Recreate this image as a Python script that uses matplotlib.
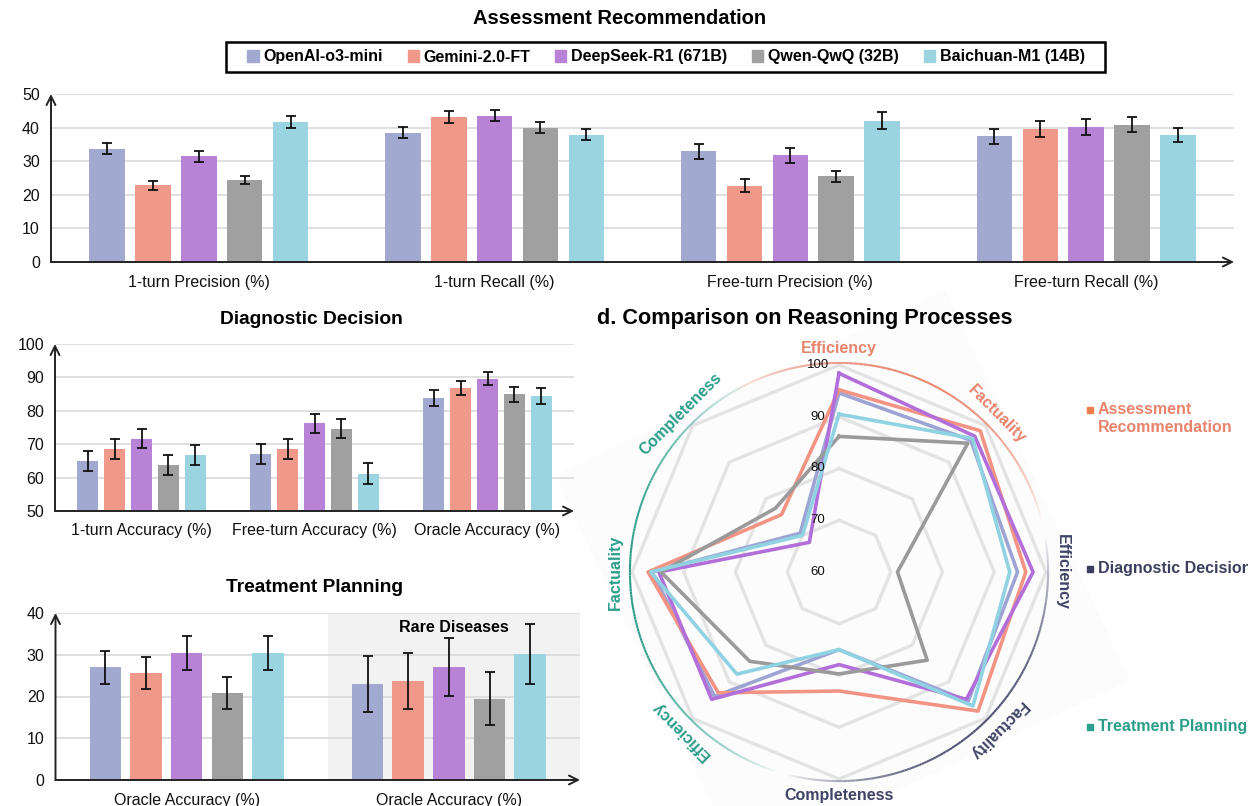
import numpy as np
import matplotlib.pyplot as plt
from matplotlib.patches import Patch, Polygon, Rectangle
from matplotlib.lines import Line2D
from matplotlib.collections import LineCollection
from matplotlib.colors import to_rgba

plt.rcParams['font.family'] = ['Liberation Sans', 'DejaVu Sans']

W, H = 1248, 806

models = ['OpenAI-o3-mini', 'Gemini-2.0-FT', 'DeepSeek-R1 (671B)', 'Qwen-QwQ (32B)', 'Baichuan-M1 (14B)']
colors = ['#A2A9D1', '#F0998A', '#B882D6', '#A0A0A0', '#9BD4E1']
line_colors = ['#9DA4D4', '#F29383', '#B26FDA', '#9A9A9A', '#8FD2E2']

# Assessment Recommendation (rows = models)
ar_metrics = ['1-turn Precision (%)', '1-turn Recall (%)', 'Free-turn Precision (%)', 'Free-turn Recall (%)']
ar_mean = [[33.7, 38.5, 32.9, 37.4],
           [22.8, 43.1, 22.7, 39.7],
           [31.5, 43.6, 31.7, 40.2],
           [24.4, 40.0, 25.5, 40.9],
           [41.7, 37.9, 42.1, 37.8]]
ar_err = [[1.6, 1.7, 2.2, 2.3],
          [1.4, 1.8, 2.0, 2.4],
          [1.6, 1.7, 2.3, 2.5],
          [1.3, 1.7, 1.7, 2.3],
          [1.9, 1.6, 2.6, 2.2]]

# Diagnostic Decision
dd_metrics = ['1-turn Accuracy (%)', 'Free-turn Accuracy (%)', 'Oracle Accuracy (%)']
dd_mean = [[65.0, 67.1, 83.8],
           [68.5, 68.7, 86.8],
           [71.7, 76.2, 89.6],
           [63.7, 74.6, 84.9],
           [66.7, 61.2, 84.4]]
dd_err = [[3.0, 3.0, 2.3],
          [3.0, 3.0, 2.2],
          [2.9, 2.7, 2.0],
          [3.0, 2.8, 2.3],
          [3.0, 3.1, 2.4]]

# Treatment Planning (second group = rare diseases)
tp_metrics = ['Oracle Accuracy (%)', 'Oracle Accuracy (%)']
tp_mean = [[27.0, 23.0],
           [25.6, 23.7],
           [30.4, 27.1],
           [20.8, 19.5],
           [30.5, 30.2]]
tp_err = [[4.0, 6.6],
          [3.8, 6.6],
          [4.0, 6.9],
          [3.8, 6.4],
          [4.1, 7.1]]

# Reasoning processes radar (clockwise from top)
radar_labels = ['Efficiency', 'Factuality', 'Efficiency', 'Factuality', 'Completeness',
                'Efficiency', 'Factuality', 'Completeness']
radar_label_colors = ['#E8836C', '#E8836C', '#3F4466', '#3F4466', '#3F4466',
                      '#2A9D8A', '#2A9D8A', '#2A9D8A']
radar_vals = [[94.6, 96.0, 94.5, 95.3, 75.0, 94.0, 96.1, 70.6],
              [95.2, 98.6, 96.1, 98.0, 83.0, 93.0, 96.9, 75.7],
              [98.4, 97.1, 97.5, 94.8, 77.9, 94.8, 94.8, 68.1],
              [86.2, 95.2, 71.3, 84.1, 79.7, 84.4, 94.4, 77.4],
              [90.5, 96.5, 93.0, 96.6, 75.0, 87.9, 96.4, 70.0]]
radar_levels = [70, 80, 90, 100]


def fx(x):
    return x / W


def fy(y):
    return 1 - y / H


def add_arrows(ax):
    kw = dict(arrowstyle='->', lw=1.4, color='#222222', shrinkA=0, shrinkB=0, mutation_scale=16)
    ax.annotate('', xy=(0, 1), xytext=(0, 0), xycoords='axes fraction', arrowprops=kw, annotation_clip=False)
    ax.annotate('', xy=(1, 0), xytext=(0, 0), xycoords='axes fraction', arrowprops=kw, annotation_clip=False)


def bar_panel(ax, metrics, means, errs, ylo, yhi, step):
    x = np.arange(len(metrics))
    for i in range(len(models)):
        ax.bar(x + (i - 2) * 0.155, np.array(means[i]) - ylo, 0.12, bottom=ylo, color=colors[i],
               yerr=errs[i], capsize=3.5, zorder=2,
               error_kw=dict(elinewidth=1.3, capthick=1.3, ecolor='#111111'))
    ax.set_xlim(-0.5, len(metrics) - 0.5)
    ax.set_ylim(ylo, yhi)
    ax.set_yticks(np.arange(ylo, yhi + 1, step))
    ax.set_xticks(x)
    ax.set_xticklabels(metrics)
    ax.tick_params(length=0, labelsize=11.5, colors='#111111')
    ax.tick_params(axis='x', pad=9)
    ax.tick_params(axis='y', pad=8)
    ax.yaxis.grid(True, color='#d9d9d9', lw=1.2)
    ax.set_axisbelow(True)
    for s in ax.spines.values():
        s.set_visible(False)
    ax.patch.set_alpha(0)
    add_arrows(ax)


fig = plt.figure(figsize=(W / 100, H / 100), dpi=100)

# faint rotated backdrop behind the radar
corners = [(945, 290), (1130, 680), (740, 865), (555, 475)]
fig.add_artist(Polygon([(fx(a), fy(b)) for a, b in corners], closed=True, transform=fig.transFigure,
                       facecolor='#fcfcfc', edgecolor='none', zorder=-5))

# a. Assessment Recommendation
ax1 = fig.add_axes([fx(51), fy(262), fx(1234 - 51), (262 - 94) / H])
bar_panel(ax1, ar_metrics, ar_mean, ar_err, 0, 50, 10)
fig.text(fx(620), fy(19), 'Assessment Recommendation', ha='center', va='center', fontsize=14.5, weight='bold')

handles = [Patch(color=c) for c in colors]
leg = fig.legend(handles, models, loc='center', bbox_to_anchor=(fx(666), fy(57)), ncol=5,
                 frameon=False, prop=dict(weight='bold', size=11.5), handlelength=0.7,
                 handleheight=0.7, handletextpad=0.3, columnspacing=1.55)
fig.add_artist(Rectangle((fx(226), fy(72)), fx(1105 - 226), (72 - 42) / H, fill=False,
                         lw=1.8, ec='black', transform=fig.transFigure))

# b. Diagnostic Decision
ax2 = fig.add_axes([fx(55), fy(511), fx(574 - 55), (511 - 344) / H])
bar_panel(ax2, dd_metrics, dd_mean, dd_err, 50, 100, 10)
fig.text(fx(311), fy(319), 'Diagnostic Decision', ha='center', va='center', fontsize=13.8, weight='bold')

# c. Treatment Planning
ax3 = fig.add_axes([fx(55.5), fy(780), fx(580 - 55.5), (780 - 613) / H])
ax3.axvspan(0.54, 1.5, color='#f2f2f2', zorder=0)
bar_panel(ax3, tp_metrics, tp_mean, tp_err, 0, 40, 10)
ax3.text(1.02, 36.6, 'Rare Diseases', ha='center', va='center', fontsize=11.5, weight='bold')
fig.text(fx(314), fy(587), 'Treatment Planning', ha='center', va='center', fontsize=13.8, weight='bold')

# d. Radar
rmax = 106
rad = 207 * (rmax - 60) / 40
cx, cy = 839, 572
axr = fig.add_axes([fx(cx - rad), fy(cy + rad), rad * 2 / W, rad * 2 / H], projection='polar')
axr.set_theta_zero_location('N')
axr.set_theta_direction(-1)
axr.set_ylim(60, rmax)
axr.set_axis_off()

ang = np.deg2rad(np.arange(8) * 45)
angc = np.r_[ang, ang[0]]
for lvl in radar_levels:
    axr.plot(angc, [lvl] * 9, color='#e3e3e3', lw=2.4, zorder=1)
for lvl in [60] + radar_levels:
    axr.annotate(str(lvl), xy=(0, lvl), xytext=(-15, 0), textcoords='offset points',
                 ha='center', va='center', fontsize=9.5, color='#111111', zorder=6)

for i in range(len(models)):
    axr.plot(angc, np.r_[radar_vals[i], radar_vals[i][0]], color=line_colors[i], lw=2.6, zorder=3)

# group arcs with faded ends
arcs = [(-32, 76, '#E8836C'), (80, 195, '#4A4D6E'), (197, 335, '#2A9D8A')]
for a0, a1, col in arcs:
    th = np.deg2rad(np.linspace(a0, a1, 160))
    pts = np.column_stack([th, np.full_like(th, 100.4)])
    segs = np.stack([pts[:-1], pts[1:]], axis=1)
    t = np.linspace(0, 1, len(segs))
    rgba = np.array([to_rgba(col)] * len(segs))
    rgba[:, 3] = np.clip(np.sin(np.pi * t) ** 0.8, 0, 1)
    axr.add_collection(LineCollection(segs, colors=rgba, lw=1.5, zorder=2))

rots = [0, -45, -90, -135, 0, 135, 90, 45]
for k in range(8):
    axr.text(ang[k], 103.2, radar_labels[k], rotation=rots[k], rotation_mode='anchor',
             ha='center', va='center', fontsize=11.5, weight='bold', color=radar_label_colors[k])

fig.text(fx(597), fy(318), 'd. Comparison on Reasoning Processes', ha='left', va='center',
         fontsize=15.6, weight='bold')

side = [(410, 'Assessment', '#F07D4D', '#E8836C'),
        (569, 'Diagnostic Decision', '#3C3F5E', '#3C3F5E'),
        (727, 'Treatment Planning', '#2BA08B', '#2A9D8A')]
for y, txt, sq, tc in side:
    fig.add_artist(Line2D([fx(1090)], [fy(y)], marker='s', markersize=4.5, color=sq,
                          transform=fig.transFigure))
    fig.text(fx(1098), fy(y), txt, ha='left', va='center', fontsize=11.5, weight='bold', color=tc)
fig.text(fx(1098), fy(428), 'Recommendation', ha='left', va='center', fontsize=11.5,
         weight='bold', color='#E8836C')

fig.savefig('out.png', dpi=100)
